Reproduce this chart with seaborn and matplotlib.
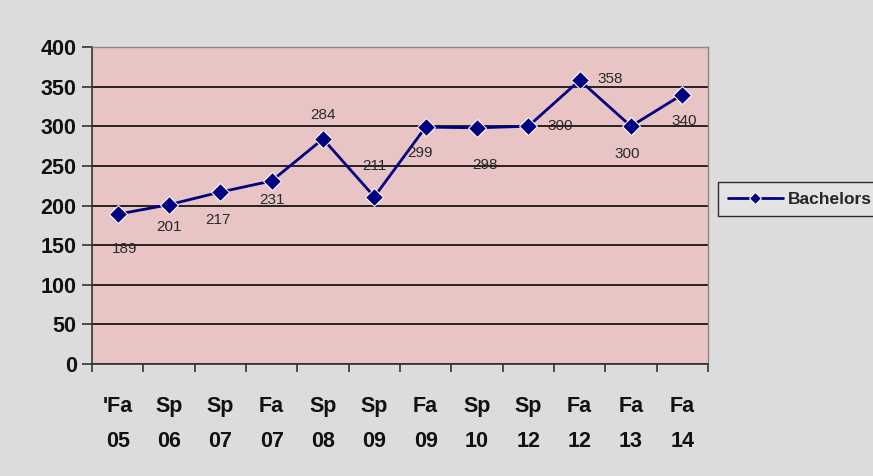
import seaborn as sns
import pandas as pd
import matplotlib
matplotlib.use("Agg")
import matplotlib.pyplot as plt
from matplotlib.ticker import MultipleLocator, FixedLocator

sns.set_style("white")
plt.rcParams['font.family'] = ['Liberation Sans', 'DejaVu Sans']

terms = ["'Fa\n05", "Sp\n06", "Sp\n07", "Fa\n07", "Sp\n08", "Sp\n09",
         "Fa\n09", "Sp\n10", "Sp\n12", "Fa\n12", "Fa\n13", "Fa\n14"]
bachelors = [189, 201, 217, 231, 284, 211, 299, 298, 300, 358, 300, 340]

# label offsets in points (dx, dy), as placed in the original
offsets = [(5, -25), (0, -16), (-2, -20), (0, -14), (0, 17), (0, 22),
           (-4, -19), (6, -27), (23, 0), (22, 1), (-3, -20), (1, -19)]

df = pd.DataFrame({"Term": terms, "Bachelors": bachelors})

fig = plt.figure(figsize=(8.73, 4.76), dpi=100)
fig.patch.set_facecolor("#dcdcdc")
ax = fig.add_axes([92/873, 1-364/476, (708-92)/873, (364-47)/476])
ax.set_facecolor("#e8c4c4")

sns.lineplot(data=df, x="Term", y="Bachelors", ax=ax, color="#000080",
             marker="D", markersize=9, linewidth=2, label="Bachelors",
             legend=False)

for i, (v, off) in enumerate(zip(bachelors, offsets)):
    ax.annotate(str(v), (i, v), xytext=off, textcoords="offset points",
                ha="center", va="center", fontsize=11, color="#2a2a2a")

ax.set_ylim(0, 400)
ax.set_xlim(-0.5, len(terms) - 0.5)
ax.yaxis.set_major_locator(MultipleLocator(50))
ax.grid(axis="y", color="#2a2020", linewidth=1.4)
ax.set_axisbelow(True)
ax.set_xlabel("")
ax.set_ylabel("")

ax.set_xticks(range(len(terms)))
ax.set_xticklabels(terms, fontsize=15.5, fontweight="bold", linespacing=1.9,
                   color="#111111")
ax.tick_params(axis="x", which="major", length=0, pad=23)
ax.xaxis.set_minor_locator(FixedLocator([i - 0.5 for i in range(len(terms) + 1)]))
ax.tick_params(axis="x", which="minor", length=6, width=1.2, color="#333333", bottom=True)
ax.tick_params(axis="y", which="major", length=7, width=1.2, color="#333333",
               labelsize=15.5, left=True, pad=4, labelcolor="#111111")
for lab in ax.get_yticklabels():
    lab.set_fontweight("bold")

for side in ["left", "bottom"]:
    ax.spines[side].set_color("#333333")
    ax.spines[side].set_linewidth(1.2)
for side in ["top", "right"]:
    ax.spines[side].set_color("#888888")
    ax.spines[side].set_linewidth(1.0)

handles, labels = ax.get_legend_handles_labels()
leg = fig.legend(handles, labels, loc="center left",
                 bbox_to_anchor=(718/873, 1-199/476), frameon=True,
                 fancybox=False, edgecolor="black", facecolor="#e6e6e6",
                 prop={"size": 12.5, "weight": "bold"}, handlelength=3.2,
                 handletextpad=0.3, borderaxespad=0, borderpad=0.55,
                 markerscale=0.7)
leg.get_frame().set_linewidth(1.0)

fig.savefig("out.png", dpi=100, facecolor=fig.get_facecolor())
